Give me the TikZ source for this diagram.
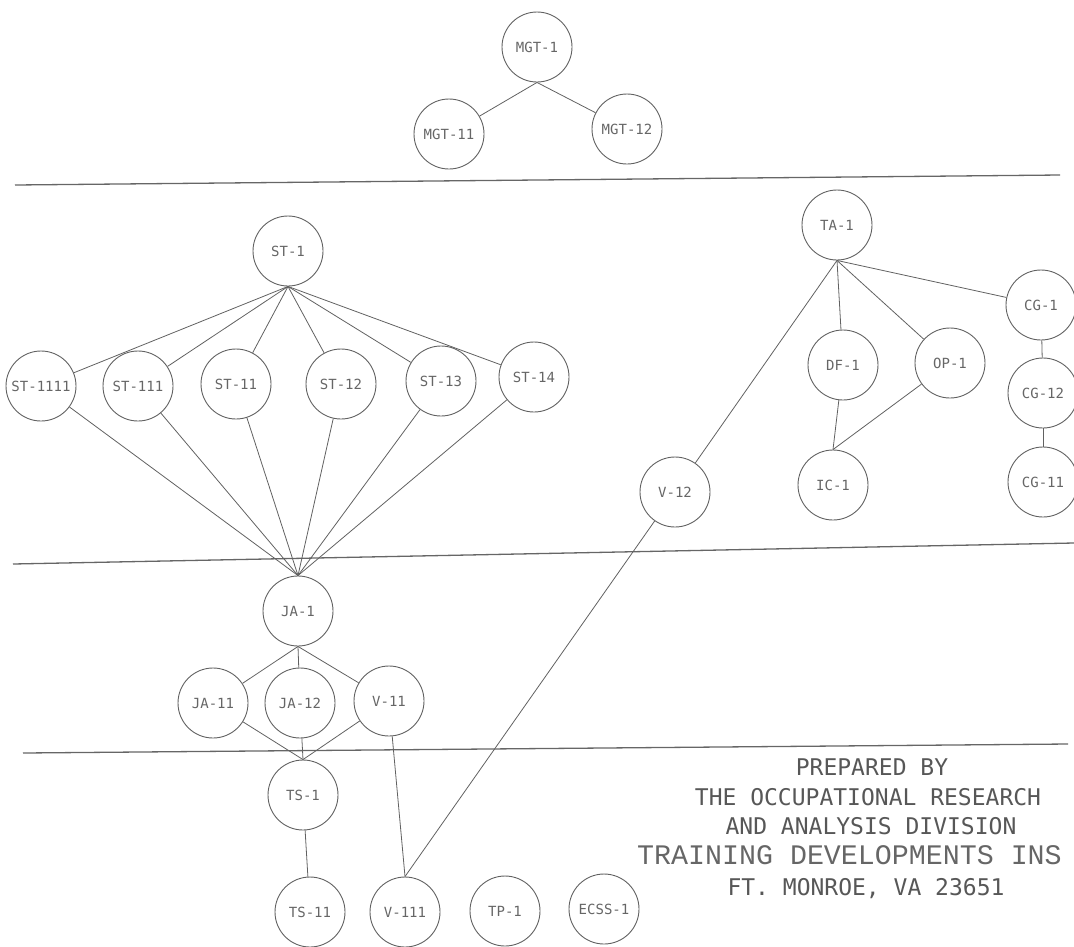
\documentclass[tikz,border=0pt]{standalone}
\usepackage{fontspec}
\newfontfamily\labelfont{DejaVu Sans Mono}
\newfontfamily\typefont{Liberation Mono}
\begin{document}
\begin{tikzpicture}[x=1pt,y=-1pt,
  unit/.style={circle,draw=black!62,line width=0.9pt,minimum size=70pt,inner sep=0pt,
    text=black!60,font=\labelfont\fontsize{14}{14}\selectfont},
  link/.style={draw=black!62,line width=0.8pt},
  rule/.style={draw=black!60,line width=1.3pt},
  note/.style={text=black!66,inner sep=0pt,anchor=center,font=\labelfont\fontsize{23}{23}\selectfont},
  typed/.style={text=black!60,inner sep=0pt,anchor=west,font=\typefont\fontsize{28.3}{28.3}\selectfont}]
\useasboundingbox (0,0) rectangle (1074,946);

% management group
\node[unit] (mgt1)  at (537,47)  {MGT-1};
\node[unit] (mgt11) at (449,134) {MGT-11};
\node[unit] (mgt12) at (627,129) {MGT-12};

% separating rules
\coordinate (r1a) at (15,185);  \coordinate (r1b) at (1060,175);
\coordinate (r2a) at (13,564);  \coordinate (r2b) at (1074,543);
\coordinate (r3a) at (23,753);  \coordinate (r3b) at (1068,744);
\draw[rule] (r1a) -- (r1b);
\draw[rule] (r2a) -- (r2b);
\draw[rule] (r3a) -- (r3b);

% ST family
\node[unit] (st1)    at (288,251) {ST-1};
\node[unit] (st1111) at (41,386)  {ST-1111};
\node[unit] (st111)  at (138,386) {ST-111};
\node[unit] (st11)   at (236,384) {ST-11};
\node[unit] (st12)   at (341,384) {ST-12};
\node[unit] (st13)   at (441,381) {ST-13};
\node[unit] (st14)   at (534,377) {ST-14};

% TA family
\node[unit] (ta1)  at (837,225) {TA-1};
\node[unit] (cg1)  at (1041,305) {CG-1};
\node[unit] (df1)  at (843,365) {DF-1};
\node[unit] (op1)  at (950,363) {OP-1};
\node[unit] (cg12) at (1043,393) {CG-12};
\node[unit] (v12)  at (675,492) {V-12};
\node[unit] (ic1)  at (833,485) {IC-1};
\node[unit] (cg11) at (1043,482) {CG-11};

% JA family
\node[unit] (ja1)  at (298,611) {JA-1};
\node[unit] (ja11) at (213,703) {JA-11};
\node[unit] (ja12) at (300,703) {JA-12};
\node[unit] (v11)  at (389,701) {V-11};

% bottom row
\node[unit] (ts1)   at (303,795) {TS-1};
\node[unit] (ts11)  at (310,912) {TS-11};
\node[unit] (v111)  at (405,912) {V-111};
\node[unit] (tp1)   at (505,911) {TP-1};
\node[unit] (ecss1) at (604,909) {ECSS-1};

% connectors
\foreach \c in {mgt11,mgt12} \draw[link] (mgt1.south) -- (\c);
\foreach \c in {st1111,st111,st11,st12,st13,st14} {
  \draw[link] (st1.south) -- (\c);
  \draw[link] (\c) -- (ja1.north);
}
\foreach \c in {v12,df1,op1,cg1} \draw[link] (ta1.south) -- (\c);
\draw[link] (df1) -- (ic1.north);
\draw[link] (op1) -- (ic1.north);
\draw[link] (cg1) -- (cg12);
\draw[link] (cg12) -- (cg11);
\foreach \c in {ja11,ja12,v11} {
  \draw[link] (ja1.south) -- (\c);
  \draw[link] (\c) -- (ts1.north);
}
\draw[link] (ts1) -- (ts11);
\draw[link] (v11) -- (v111.north);
\draw[link] (v12) -- (v111.north);

% imprint
\node[note] (p1) at (872,767) {PREPARED BY};
\node[note] (p2) at (868,797) {THE OCCUPATIONAL RESEARCH};
\node[note] (p3) at (871,826) {AND ANALYSIS DIVISION};
\node[typed] (p4) at (637,855) {TRAINING DEVELOPMENTS INS};
\node[note] (p5) at (866,889) {FT. MONROE, VA 23651};
\end{tikzpicture}
\end{document}
